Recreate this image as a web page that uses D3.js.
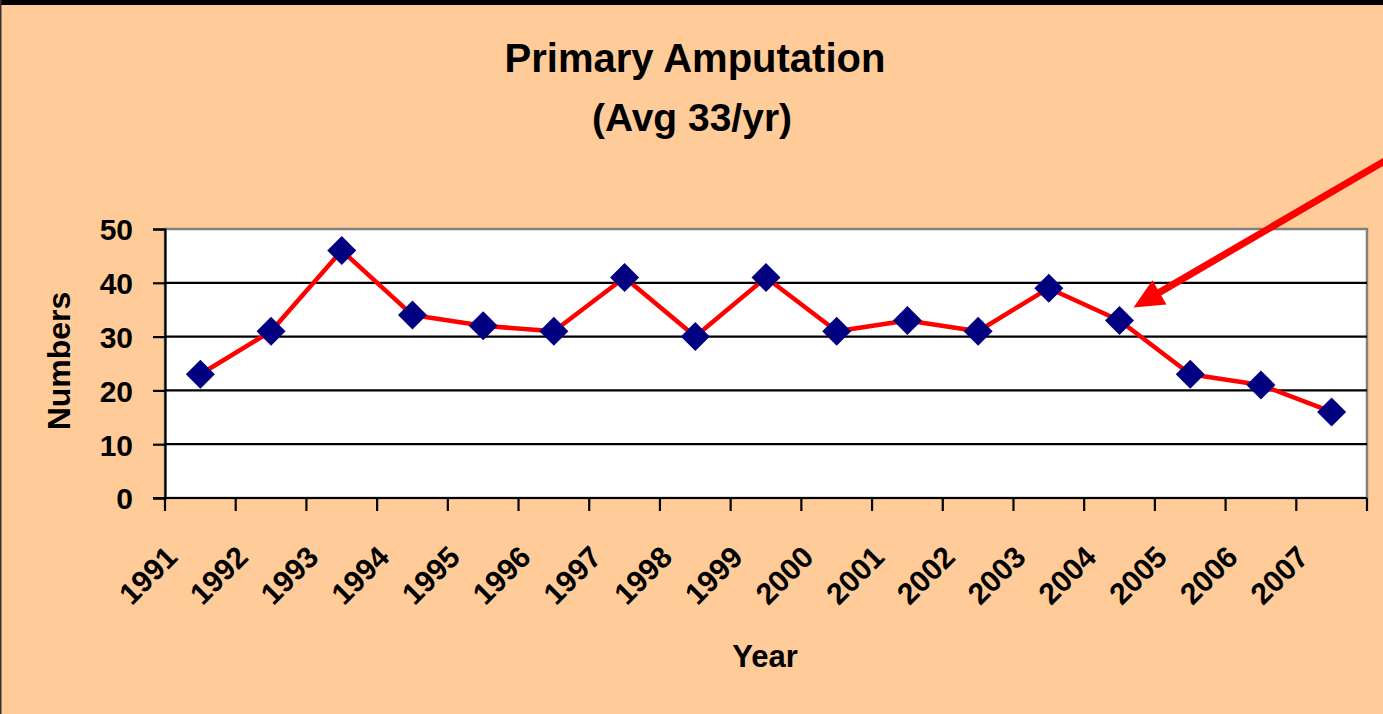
<!DOCTYPE html>
<html>
<head>
<meta charset="utf-8">
<script src="https://cdn.jsdelivr.net/npm/d3@7"></script>
<style>
	body{margin:0;background:#FFCC99;overflow:hidden}
	svg{display:block;font-family:'Liberation Sans',Arial,sans-serif;font-weight:bold}
</style>
</head>
<body>
<svg id="chart"></svg>
<script>
// values
const years = ['1991','1992','1993','1994','1995','1996','1997','1998','1999','2000','2001','2002','2003','2004','2005','2006','2007']
const amputations = [23,31,46,34,32,31,41,30,41,31,33,31,39,33,23,21,16]
const yTicks = [0,10,20,30,40,50]
const title = ['Primary Amputation','(Avg 33/yr)']
const arrowYear = '2004'

const W = 1383
const H = 714
const mrgn = {top:229,right:16,bottom:216,left:165}

const svg = d3.select('#chart')
	.attr('width',W)
	.attr('height',H)

// page frame
svg.append('rect').attr('width',W).attr('height',H).attr('fill','#FFCC99')
svg.append('rect').attr('width',W).attr('height',5).attr('fill','#000')
svg.append('rect').attr('width',1.5).attr('height',H).attr('fill','#333')

const x = d3.scaleBand()
	.domain(years)
	.range([mrgn.left, W - mrgn.right])

const y = d3.scaleLinear()
	.domain([0,50])
	.range([H - mrgn.bottom, mrgn.top])

// plot area
svg.append('rect')
	.attr('x',mrgn.left)
	.attr('y',mrgn.top)
	.attr('width',W - mrgn.right - mrgn.left)
	.attr('height',H - mrgn.bottom - mrgn.top)
	.attr('fill','#fff')
	.attr('stroke','#808080')
	.attr('stroke-width',2.5)

// gridlines
svg.append('g')
	.selectAll('line')
	.data(yTicks.filter(d => d > 0 && d < 50))
	.enter()
	.append('line')
	.attr('x1',mrgn.left)
	.attr('x2',W - mrgn.right)
	.attr('y1',d => y(d))
	.attr('y2',d => y(d))
	.attr('stroke','#000')
	.attr('stroke-width',2.2)

// y axis
const yAxis = svg.append('g')
	.attr('transform',`translate(${mrgn.left},0)`)
	.call(d3.axisLeft(y).tickValues(yTicks).tickSize(12).tickPadding(20))
yAxis.select('.domain').attr('stroke','#000').attr('stroke-width',2.2)
yAxis.selectAll('.tick line').attr('stroke','#000').attr('stroke-width',2.2)
yAxis.selectAll('.tick text')
	.attr('fill','#000')
	.style('font-size','30px')
	.style('font-weight','bold')
	.attr('dy','0.36em')

// x axis, ticks on category edges
const edges = years.map(d => x(d)).concat([x.range()[1]])
const xg = svg.append('g')
xg.append('line')
	.attr('x1',mrgn.left - 12)
	.attr('x2',W - mrgn.right)
	.attr('y1',y(0))
	.attr('y2',y(0))
	.attr('stroke','#000')
	.attr('stroke-width',2.2)
xg.selectAll('.xt')
	.data(edges)
	.enter()
	.append('line')
	.classed('xt',true)
	.attr('x1',d => d)
	.attr('x2',d => d)
	.attr('y1',y(0))
	.attr('y2',y(0) + 13)
	.attr('stroke','#000')
	.attr('stroke-width',2.2)
xg.selectAll('.xl')
	.data(years)
	.enter()
	.append('text')
	.classed('xl',true)
	.attr('text-anchor','end')
	.attr('transform',d => `translate(${x(d) + 14},${y(0) + 61}) rotate(-45)`)
	.style('font-size','30px')
	.text(d => d)

// line + markers
const line = d3.line()
	.x(d => x(d[0]) + x.bandwidth() / 2)
	.y(d => y(d[1]))

const pts = years.map((d,i) => [d, amputations[i]])

svg.append('path')
	.datum(pts)
	.attr('d',line)
	.attr('fill','none')
	.attr('stroke','#FF0000')
	.attr('stroke-width',4.5)
	.attr('stroke-linejoin','round')

svg.selectAll('.mk')
	.data(pts)
	.enter()
	.append('path')
	.classed('mk',true)
	.attr('d',d3.symbol().type(d3.symbolSquare).size(420))
	.attr('transform',d => `translate(${x(d[0]) + x.bandwidth() / 2},${y(d[1])}) rotate(45)`)
	.attr('fill','#000080')

// titles
svg.append('text')
	.attr('x',695)
	.attr('y',72)
	.attr('text-anchor','middle')
	.style('font-size','40px')
	.text(title[0])
svg.append('text')
	.attr('x',692)
	.attr('y',131)
	.attr('text-anchor','middle')
	.style('font-size','39px')
	.text(title[1])

svg.append('text')
	.attr('x',765)
	.attr('y',667)
	.attr('text-anchor','middle')
	.style('font-size','31px')
	.text('Year')

svg.append('text')
	.attr('transform','translate(70,361) rotate(-90)')
	.attr('text-anchor','middle')
	.style('font-size','32px')
	.text('Numbers')

// arrow pointing at 2004
const ai = years.indexOf(arrowYear)
const tipX = x(arrowYear) + x.bandwidth() / 2 + 14
const tipY = y(amputations[ai]) - 13
const ang = Math.atan2(155 - tipY, 1395 - tipX)
const ux = Math.cos(ang), uy = Math.sin(ang)
const headLen = 30, headW = 14
const bx = tipX + ux * headLen, by = tipY + uy * headLen

svg.append('line')
	.attr('x1',bx - ux * 2)
	.attr('y1',by - uy * 2)
	.attr('x2',tipX + ux * 400)
	.attr('y2',tipY + uy * 400)
	.attr('stroke','#FF0000')
	.attr('stroke-width',7)

svg.append('path')
	.attr('d',`M${tipX},${tipY}L${bx - uy * headW},${by + ux * headW}L${bx + uy * headW},${by - ux * headW}Z`)
	.attr('fill','#FF0000')
</script>
</body>
</html>
